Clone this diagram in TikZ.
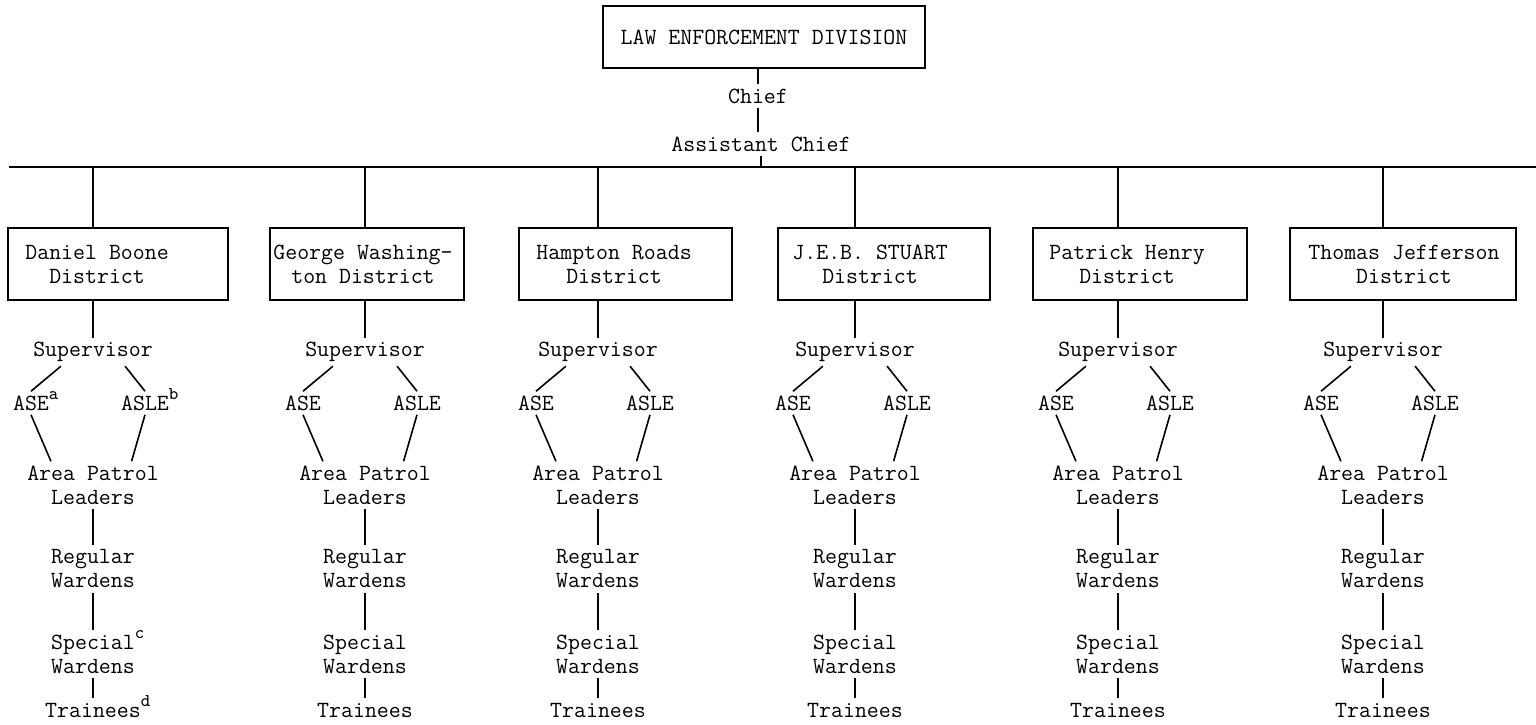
\documentclass[tikz,border=0pt]{standalone}
\usepackage{fontspec}
\usetikzlibrary{positioning,calc}
\newcommand{\fn}[1]{\rlap{\smash{\raisebox{1.1ex}{\small #1}}}}

\begin{document}
\begin{tikzpicture}[x=0.5pt, y=0.5pt,
		block/.style={rectangle, draw=black, line width=0.8pt, inner sep=0pt},
		label/.style={rectangle, font=\ttfamily\fontsize{11.6}{12}\selectfont, inner sep=2pt, align=center},
		link/.style={line width=0.8pt}
	]
	\useasboundingbox (0,0) rectangle (1536,-724);
	\node[block, label, minimum width=161pt, minimum height=31pt] (division) at (764,-37) {LAW ENFORCEMENT DIVISION};
	\node[label] (chief) at (758,-96) {Chief};
	\node[label] (assistant) at (761,-144) {Assistant Chief};
	\coordinate (bus west) at (9,-167);
	\coordinate (bus east) at (1536,-167);
	\draw[link] (division.south -| chief) -- (chief.north);
	\draw[link] (chief.south) -- (chief.south |- assistant.north);
	\draw[link] (assistant.south) -- (assistant.south |- bus west);
	\draw[link] (bus west) -- (bus east);
	% one column per district
	\foreach \i/\l/\r/\x/\ins/\na/\nb in {
		1/7/227/93/18/Daniel Boone/District,
		2/269/463/365/4/George Washing-/ton District,
		3/518/731/598/18/Hampton Roads/District,
		4/777/989/855/15/J.E.B. STUART/District,
		5/1032/1246/1118/17/Patrick Henry/District,
		6/1289/1515/1383/19/Thomas Jefferson/District}
	{
		\pgfmathsetmacro\w{(\r-\l)/2}
		\pgfmathsetmacro\gap{\ins/2-2}
		\node[block, minimum width=\w pt, minimum height=36pt, anchor=west] (dist\i) at (\l,-264) {};
		\node[label] (name\i) [right=\gap pt of dist\i.west] {\na\\\nb};
		\node[label] (sup\i) at (\x,-352) {Supervisor};
		\node[label] (ase\i) at (\x-62,-403) {ASE\ifnum\i=1 \fn{a}\fi};
		\node[label] (asle\i) at (\x+52,-403) {ASLE\ifnum\i=1 \fn{b}\fi};
		\node[label] (area\i) at (\x,-485) {Area Patrol\\Leaders};
		\node[label] (reg\i) at (\x,-569) {Regular\\Wardens};
		\node[label] (spec\i) at (\x,-654) {Special\ifnum\i=1 \fn{c}\fi\\Wardens};
		\node[label] (train\i) at (\x,-710) {Trainees\ifnum\i=1 \fn{d}\fi};
		\draw[link] (sup\i |- bus west) -- (sup\i |- dist\i.north);
		\draw[link] (sup\i |- dist\i.south) -- (sup\i.north);
		\draw[link] ($(sup\i.south)!.5!(sup\i.south west)$) -- (ase\i.north);
		\draw[link] ($(sup\i.south)!.5!(sup\i.south east)$) -- (asle\i.north);
		\draw[link] (ase\i.south) -- ($(area\i.north)!.6!(area\i.north west)$);
		\draw[link] (asle\i.south) -- ($(area\i.north)!.55!(area\i.north east)$);
		\draw[link] (area\i.south) -- (reg\i.north);
		\draw[link] (reg\i.south) -- (spec\i.north);
		\draw[link] (spec\i.south) -- (train\i.north);
	}
\end{tikzpicture}
\end{document}
